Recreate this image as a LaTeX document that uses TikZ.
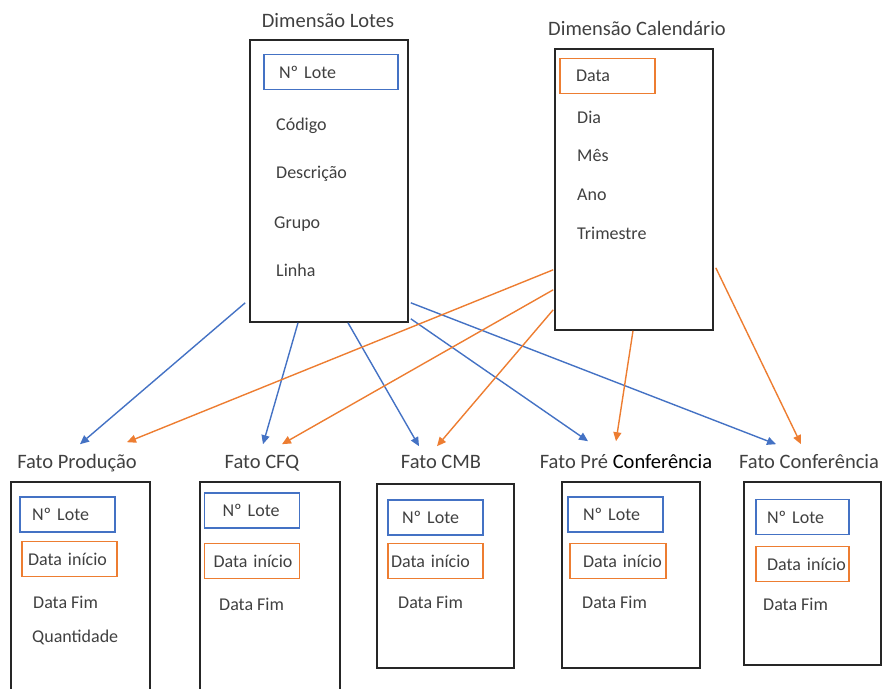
\documentclass[tikz,border=0pt]{standalone}
\usepackage{fontspec}
\setmainfont{Carlito}
\usepackage{xcolor}
\usepackage{tikz}
\usetikzlibrary{arrows.meta, positioning}

\definecolor{azul}{HTML}{4472C4}
\definecolor{laranja}{HTML}{ED7D31}
\definecolor{texto}{HTML}{404040}

\begin{document}
\begin{tikzpicture}[
    x=1pt, y=-1pt,
    tabela/.style={rectangle, draw=black!85, line width=1.6pt, fill=white},
    titulo/.style={anchor=base, inner sep=0pt, text=texto, font=\fontsize{20.5}{24}\selectfont},
    campo/.style={anchor=base west, inner sep=0pt, text=texto, font=\fontsize{18}{21}\selectfont},
    chave/.style={rectangle, draw=#1, line width=1.5pt, minimum height=35pt, text width=71pt, inner xsep=12pt, align=left, text=texto, font=\fontsize{18}{21}\selectfont},
    seta/.style={-{Triangle[length=9pt, width=8pt]}, line width=1.4pt}
  ]
    \useasboundingbox (0,0) rectangle (882,688);

    % Dimensao Lotes
    \node[tabela, minimum width=158pt, minimum height=282pt] (lotes) at (329,181) {};
    \node[titulo] (tlotes) at (328,27) {Dimensão Lotes};
    \node[chave=azul, text width=104pt, inner xsep=15pt] (lotes-id) at (331,72) {\mbox{Nº Lote}};
    \node[campo] (lotes-cod) at (276,130.5) {Código};
    \node[campo] (lotes-desc) at (276,178.5) {Descrição};
    \node[campo] (lotes-grupo) at (274,228) {Grupo};
    \node[campo] (lotes-linha) at (276,276.5) {Linha};

    % Dimensao Calendario
    \node[tabela, minimum width=158pt, minimum height=281pt] (cal) at (634,189.5) {};
    \node[titulo] (tcal) at (637,35) {Dimensão Calendário};
    \node[chave=laranja, inner xsep=16pt, text width=63pt] (cal-data) at (607.5,76) {\mbox{Data}};
    \node[campo] (cal-dia) at (577,123.5) {Dia};
    \node[campo] (cal-mes) at (577,161.5) {Mês};
    \node[campo] (cal-ano) at (577,200) {Ano};
    \node[campo] (cal-tri) at (577,239.5) {Trimestre};

    % Fatos
    \node[tabela, minimum width=139pt, minimum height=218pt] (prod) at (80.5,591) {};
    \node[titulo] (tprod) at (77,468) {Fato Produção};
    \node[chave=azul] (prod-id) at (67.5,514.5) {\mbox{Nº Lote}};
    \node[chave=laranja, inner xsep=6pt, text width=83pt] (prod-data) at (69.5,559) {\mbox{Data início}};
    \node[campo] (prod-fim) at (33,608.5) {Data Fim};
    \node[campo] (prod-qtd) at (32,642.5) {Quantidade};

    \node[tabela, minimum width=140pt, minimum height=218pt] (cfq) at (270,591) {};
    \node[titulo] (tcfq) at (262,468) {Fato CFQ};
    \node[chave=azul, inner xsep=18pt, text width=59pt] (cfq-id) at (252,510.5) {\mbox{Nº Lote}};
    \node[chave=laranja, inner xsep=9pt, text width=77pt] (cfq-data) at (252,561) {\mbox{Data início}};
    \node[campo] (cfq-fim) at (219,610.5) {Data Fim};

    \node[tabela, minimum width=137pt, minimum height=184pt] (cmb) at (445.5,576) {};
    \node[titulo] (tcmb) at (441,468) {Fato CMB};
    \node[chave=azul, inner xsep=14pt, text width=67pt] (cmb-id) at (435.5,517.5) {\mbox{Nº Lote}};
    \node[chave=laranja, inner xsep=3pt, text width=89pt] (cmb-data) at (435.5,561) {\mbox{Data início}};
    \node[campo] (cmb-fim) at (398,608.5) {Data Fim};

    \node[tabela, minimum width=138pt, minimum height=186pt] (pre) at (631,575) {};
    \node[titulo] (tpre) at (626,468) {Fato Pré \textcolor{black}{Conferência}};
    \node[chave=azul, inner xsep=15pt, text width=65pt] (pre-id) at (615.5,514.5) {\mbox{Nº Lote}};
    \node[chave=laranja, inner xsep=13pt, text width=70pt] (pre-data) at (618,561) {\mbox{Data início}};
    \node[campo] (pre-fim) at (582,608.5) {Data Fim};

    \node[tabela, minimum width=137pt, minimum height=183pt] (conf) at (812.5,573.5) {};
    \node[titulo] (tconf) at (809,468) {Fato Conferência};
    \node[chave=azul, inner xsep=11pt] (conf-id) at (802.5,517) {\mbox{Nº Lote}};
    \node[chave=laranja, inner xsep=11pt] (conf-data) at (802.5,564) {\mbox{Data início}};
    \node[campo] (conf-fim) at (763,610.5) {Data Fim};

    % Setas - Dimensao Lotes para os fatos
    \draw[seta, azul] ([xshift=-4pt, yshift=20pt]lotes.south west) -- ([xshift=-0.5pt, yshift=37pt]prod.north);
    \draw[seta, azul] ([xshift=-31pt]lotes.south) -- ([xshift=-7pt, yshift=37pt]cfq.north);
    \draw[seta, azul] ([xshift=19pt]lotes.south) -- ([xshift=-26.5pt, yshift=37pt]cmb.north);
    \draw[seta, azul] ([xshift=2pt, yshift=4pt]lotes.south east) -- ([xshift=-43pt, yshift=40pt]pre.north);
    \draw[seta, azul] ([xshift=2pt, yshift=20pt]lotes.south east) -- ([xshift=-36.5pt, yshift=37pt]conf.north);

    % Setas - Dimensao Calendario para os fatos
    \draw[seta, laranja] ([xshift=-1pt, yshift=61pt]cal.south west) -- ([xshift=46.5pt, yshift=39pt]prod.north);
    \draw[seta, laranja] ([xshift=-1pt, yshift=41pt]cal.south west) -- ([xshift=12pt, yshift=37pt]cfq.north);
    \draw[seta, laranja] ([xshift=-1pt, yshift=21pt]cal.south west) -- ([xshift=-8.5pt, yshift=37pt]cmb.north);
    \draw[seta, laranja] ([xshift=-1pt]cal.south) -- ([xshift=-15pt, yshift=40pt]pre.north);
    \draw[seta, laranja] ([xshift=2pt, yshift=63pt]cal.south east) -- ([xshift=-11.5pt, yshift=37pt]conf.north);

\end{tikzpicture}
\end{document}
